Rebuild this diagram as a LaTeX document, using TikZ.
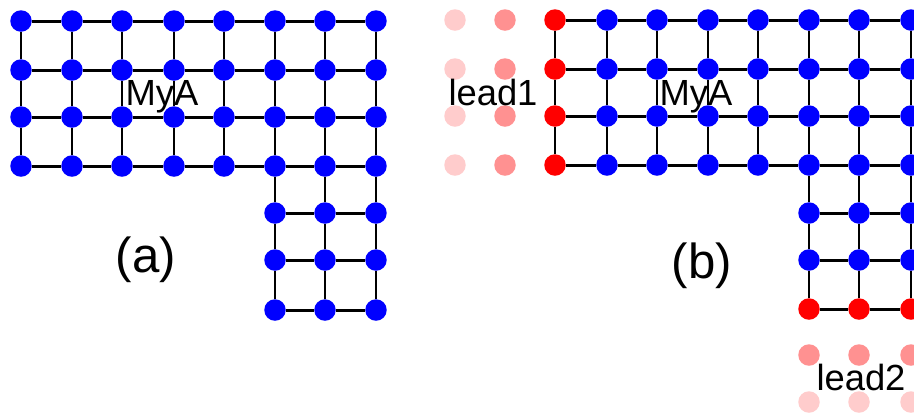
\documentclass[tikz,border=0pt]{standalone}
\usepackage{fontspec}
\setmainfont{Liberation Sans}

\tikzset{
    site/.style={circle, inner sep=0pt, minimum size=0.43cm, fill=blue},
    edgesite/.style={site, fill=red},
    leadnear/.style={site, fill=red!43},
    leadfar/.style={site, fill=red!20},
    bond/.style={line width=1.7pt, black},
    smalllabel/.style={anchor=base, inner sep=0pt, font=\fontsize{20.7}{24}\selectfont},
    biglabel/.style={anchor=base, inner sep=0pt, font=\fontsize{28}{32}\selectfont}
}

% all bonds of one L-shaped lattice, #1 is the name prefix
\newcommand{\latticebonds}[1]{
    \foreach \j in {1,2,3,4}
        \foreach \i/\k in {1/2,2/3,3/4,4/5,5/6,6/7,7/8}
            \draw [bond] (#1\i-\j) -- (#1\k-\j);
    \foreach \j/\k in {1/2,2/3,3/4}
        \foreach \i in {1,...,8}
            \draw [bond] (#1\i-\j) -- (#1\i-\k);
    \foreach \j in {5,6,7}
        \foreach \i/\k in {6/7,7/8}
            \draw [bond] (#1\i-\j) -- (#1\k-\j);
    \foreach \j/\k in {4/5,5/6,6/7}
        \foreach \i in {6,7,8}
            \draw [bond] (#1\i-\j) -- (#1\i-\k);
}

\begin{document}
\begin{tikzpicture}[x=0.02cm, y=-0.02cm]
    \useasboundingbox (0,0) rectangle (914,414);
    \clip (0,0) rectangle (914,414);

    % lattice (a)
    \foreach \x [count=\i] in {21,72,122,174,224,275,325,376}
        \foreach \y [count=\j] in {21,70,117,166}
            \node [site] (a\i-\j) at (\x,\y) {};
    \foreach \x [count=\i from 6] in {275,325,376}
        \foreach \y [count=\j from 5] in {213,260,310}
            \node [site] (a\i-\j) at (\x,\y) {};
    \latticebonds{a}
    \node [smalllabel] (mya) at (162,105) {MyA};
    \node [biglabel] (laba) at (146,272) {(a)};

    % lattice (b), left column and bottom row belong to the leads
    \foreach \y [count=\j] in {20,69,116,165}
        \node [edgesite] (b1-\j) at (555,\y) {};
    \foreach \x [count=\i from 2] in {607,657,708,758,809,859,911}
        \foreach \y [count=\j] in {20,69,116,165}
            \node [site] (b\i-\j) at (\x,\y) {};
    \foreach \x [count=\i from 6] in {809,859,911} {
        \node [site] (b\i-5) at (\x,213) {};
        \node [site] (b\i-6) at (\x,260) {};
        \node [edgesite] (b\i-7) at (\x,309) {};
    }
    \latticebonds{b}
    \node [smalllabel] (myb) at (696,105) {MyA};
    \node [biglabel] (labb) at (702,278) {(b)};

    % lead1
    \foreach \y [count=\j] in {20,69,116,165} {
        \node [leadfar] (la-\j) at (455,\y) {};
        \node [leadnear] (lb-\j) at (505,\y) {};
    }
    \node [smalllabel] (leadone) at (493,105) {lead1};

    % lead2
    \foreach \x [count=\i] in {809,859,911} {
        \node [leadnear] (ma-\i) at (\x,355) {};
        \node [leadfar] (mb-\i) at (\x,402) {};
    }
    \node [smalllabel] (leadtwo) at (861,390) {lead2};
\end{tikzpicture}
\end{document}
